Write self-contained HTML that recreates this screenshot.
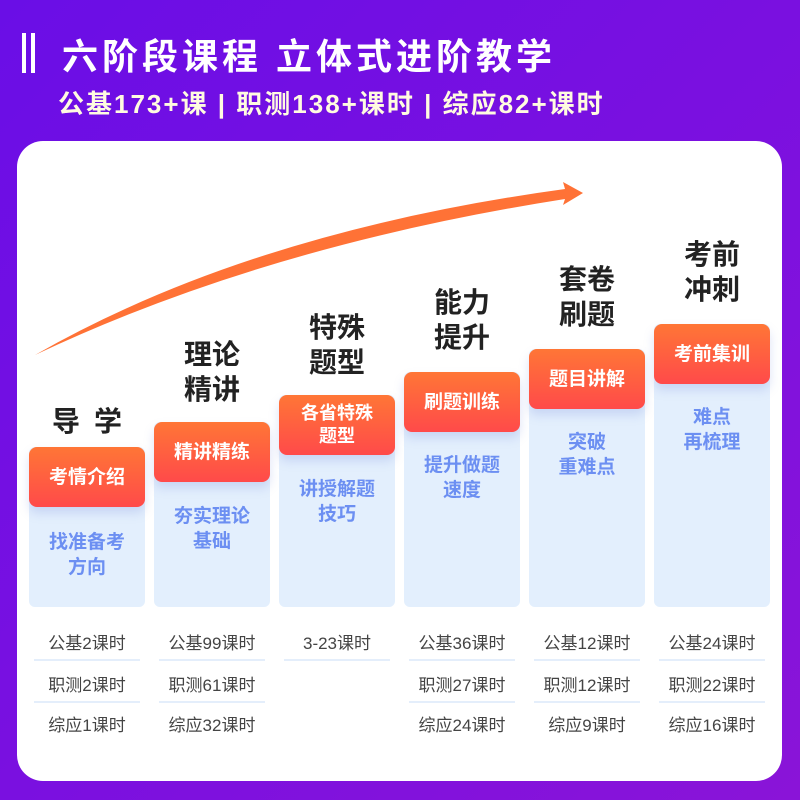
<!DOCTYPE html>
<html><head><meta charset="utf-8"><style>
*{margin:0;padding:0;box-sizing:border-box}
body{width:800px;height:800px;overflow:hidden;position:relative;font-family:"Liberation Sans","Noto Sans CJK SC",sans-serif;background:linear-gradient(135deg,#6a0ee6 0%,#7a10e0 50%,#8a14d8 100%)}
.bar{position:absolute;top:33px;width:4px;height:40px;background:#fff}
.h1{position:absolute;left:62px;top:28px;font-size:36px;font-weight:bold;color:#fff;letter-spacing:4px;white-space:nowrap}
.h2{position:absolute;left:58px;top:84px;font-size:26px;font-weight:bold;color:#fffbe0;white-space:nowrap;letter-spacing:2px}
.card{position:absolute;left:17px;top:141px;width:765px;height:640px;background:#fff;border-radius:26px}
.blue{position:absolute;width:116px;background:#e3effd;border-radius:6px}
.org{position:absolute;left:0;width:116px;height:60px;border-radius:8px;background:linear-gradient(#ff7636,#ff4a4a);color:#fff;font-weight:bold;font-size:19px;text-align:center;display:flex;align-items:center;justify-content:center;line-height:23px;box-shadow:0 6px 10px rgba(120,140,220,0.25)}
.desc{position:absolute;left:0;width:116px;text-align:center;color:#6c8ff2;font-weight:bold;font-size:19px;line-height:25px}
.tt{position:absolute;width:116px;text-align:center;font-weight:bold;font-size:28px;line-height:35px;color:#222}
.row{position:absolute;width:116px;text-align:center;font-size:17px;color:#444;line-height:20px}
.sep{position:absolute;height:2px;background:#e4eefb}
</style></head><body>
<div class="bar" style="left:22px"></div><div class="bar" style="left:31px"></div>
<div class="h1">六阶段课程&nbsp;立体式进阶教学</div>
<div class="h2">公基173+课 | 职测138+课时 | 综应82+课时</div>
<div class="card"></div>
<svg style="position:absolute;left:0;top:0" width="800" height="800">
<path d="M35,355 Q250,232 565,189 L563,182 L583,193 L563,205 L565,199 Q265,246 35,355Z" fill="#ff7236"/>
</svg>

<div class="tt" style="left:29px;top:404px;letter-spacing:14px;padding-left:14px">导学</div>
<div class="blue" style="left:29px;top:447px;height:160px"></div>
<div class="org" style="left:29px;top:447px">考情介绍</div>
<div class="desc" style="left:29px;top:530px">找准备考<br>方向</div>

<div class="tt" style="left:154px;top:337px">理论<br>精讲</div>
<div class="blue" style="left:154px;top:422px;height:185px"></div>
<div class="org" style="left:154px;top:422px">精讲精练</div>
<div class="desc" style="left:154px;top:504px">夯实理论<br>基础</div>

<div class="tt" style="left:279px;top:310px">特殊<br>题型</div>
<div class="blue" style="left:279px;top:395px;height:212px"></div>
<div class="org" style="left:279px;top:395px;font-size:18px">各省特殊<br>题型</div>
<div class="desc" style="left:279px;top:477px">讲授解题<br>技巧</div>

<div class="tt" style="left:404px;top:285px">能力<br>提升</div>
<div class="blue" style="left:404px;top:372px;height:235px"></div>
<div class="org" style="left:404px;top:372px">刷题训练</div>
<div class="desc" style="left:404px;top:453px">提升做题<br>速度</div>

<div class="tt" style="left:529px;top:262px">套卷<br>刷题</div>
<div class="blue" style="left:529px;top:349px;height:258px"></div>
<div class="org" style="left:529px;top:349px">题目讲解</div>
<div class="desc" style="left:529px;top:430px">突破<br>重难点</div>

<div class="tt" style="left:654px;top:237px">考前<br>冲刺</div>
<div class="blue" style="left:654px;top:324px;height:283px"></div>
<div class="org" style="left:654px;top:324px">考前集训</div>
<div class="desc" style="left:654px;top:405px">难点<br>再梳理</div>

<div class="row" style="left:29px;top:634px">公基2课时</div>
<div class="sep" style="left:34px;top:659px;width:106px"></div>
<div class="row" style="left:29px;top:676px">职测2课时</div>
<div class="sep" style="left:34px;top:701px;width:106px"></div>
<div class="row" style="left:29px;top:716px">综应1课时</div>

<div class="row" style="left:154px;top:634px">公基99课时</div>
<div class="sep" style="left:159px;top:659px;width:106px"></div>
<div class="row" style="left:154px;top:676px">职测61课时</div>
<div class="sep" style="left:159px;top:701px;width:106px"></div>
<div class="row" style="left:154px;top:716px">综应32课时</div>

<div class="row" style="left:279px;top:634px">3-23课时</div>
<div class="sep" style="left:284px;top:659px;width:106px"></div>

<div class="row" style="left:404px;top:634px">公基36课时</div>
<div class="sep" style="left:409px;top:659px;width:106px"></div>
<div class="row" style="left:404px;top:676px">职测27课时</div>
<div class="sep" style="left:409px;top:701px;width:106px"></div>
<div class="row" style="left:404px;top:716px">综应24课时</div>

<div class="row" style="left:529px;top:634px">公基12课时</div>
<div class="sep" style="left:534px;top:659px;width:106px"></div>
<div class="row" style="left:529px;top:676px">职测12课时</div>
<div class="sep" style="left:534px;top:701px;width:106px"></div>
<div class="row" style="left:529px;top:716px">综应9课时</div>

<div class="row" style="left:654px;top:634px">公基24课时</div>
<div class="sep" style="left:659px;top:659px;width:106px"></div>
<div class="row" style="left:654px;top:676px">职测22课时</div>
<div class="sep" style="left:659px;top:701px;width:106px"></div>
<div class="row" style="left:654px;top:716px">综应16课时</div>
</body></html>
